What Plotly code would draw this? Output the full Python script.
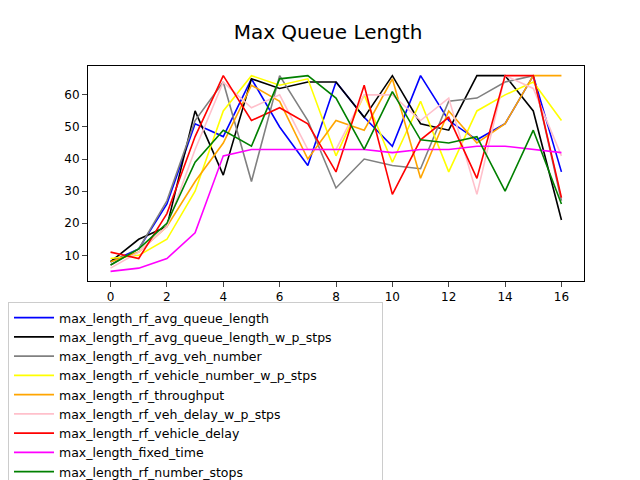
import plotly.graph_objects as go

x = list(range(17))

avg_queue_length = [8, 12, 26, 51, 47, 65, 50, 38, 64, 53, 44, 66, 52, 46, 51, 66, 36]
avg_veh_number = [7, 12, 27, 52, 64, 33, 66, 52, 31, 40, 38, 37, 58, 59, 64, 66, 27]
throughput = [8, 11, 19, 33, 45, 63, 58, 40, 52, 49, 65, 34, 55, 45, 51, 66, 66]
vehicle_delay = [11, 9, 23, 47, 66, 52, 56, 51, 36, 63, 29, 46, 53, 34, 66, 66, 28]
number_stops = [7, 12, 20, 39, 49, 44, 65, 66, 59, 43, 61, 46, 45, 47, 30, 49, 26]
avg_queue_length_w_p_stps = [8, 15, 19, 55, 35, 65, 62, 64, 64, 53, 66, 51, 49, 66, 66, 55, 21]
vehicle_number_w_p_stps = [9, 10, 15, 30, 55, 66, 63, 65, 41, 60, 39, 58, 36, 55, 60, 64, 52]
veh_delay_w_p_stps = [6, 11, 19, 43, 64, 56, 60, 43, 43, 60, 60, 52, 59, 29, 66, 62, 41]
fixed_time = [5, 6, 9, 17, 41, 43, 43, 43, 43, 43, 42, 43, 43, 44, 44, 43, 42]

# interleaved so a row-wise legend reads like two columns
series = [
    ("max_length_rf_avg_queue_length", avg_queue_length, "blue"),
    ("max_length_rf_avg_queue_length_w_p_stps", avg_queue_length_w_p_stps, "black"),
    ("max_length_rf_avg_veh_number", avg_veh_number, "gray"),
    ("max_length_rf_vehicle_number_w_p_stps", vehicle_number_w_p_stps, "yellow"),
    ("max_length_rf_throughput", throughput, "orange"),
    ("max_length_rf_veh_delay_w_p_stps", veh_delay_w_p_stps, "pink"),
    ("max_length_rf_vehicle_delay", vehicle_delay, "red"),
    ("max_length_fixed_time", fixed_time, "magenta"),
    ("max_length_rf_number_stops", number_stops, "green"),
]

fig = go.Figure()
for name, ys, color in series:
    fig.add_trace(go.Scatter(x=x, y=ys, mode="lines", name=name,
                             line=dict(color=color, width=1.6)))

fig.update_layout(
    width=640, height=480,
    title=dict(text="Max Queue Length", x=0.5, xanchor="center", y=0.965,
               font=dict(size=20, color="black")),
    font=dict(family="DejaVu Sans", size=12, color="black"),
    plot_bgcolor="white", paper_bgcolor="white",
    margin=dict(l=0, r=0, t=58, b=145),
    legend=dict(orientation="h", x=0, xanchor="left", y=-0.1, yanchor="top",
                entrywidth=318, font=dict(size=12.5), bordercolor="#cccccc",
                borderwidth=1, tracegroupgap=0, itemwidth=40),
)
axis = dict(showline=True, linecolor="black", linewidth=1, mirror=True,
            ticks="outside", showgrid=False, zeroline=False, automargin=False)
fig.update_xaxes(range=[-0.8, 16.8], dtick=2, domain=[80 / 640, 576 / 640], **axis)
fig.update_yaxes(range=[2, 69], dtick=10, **axis)

fig.write_html("out.html")
